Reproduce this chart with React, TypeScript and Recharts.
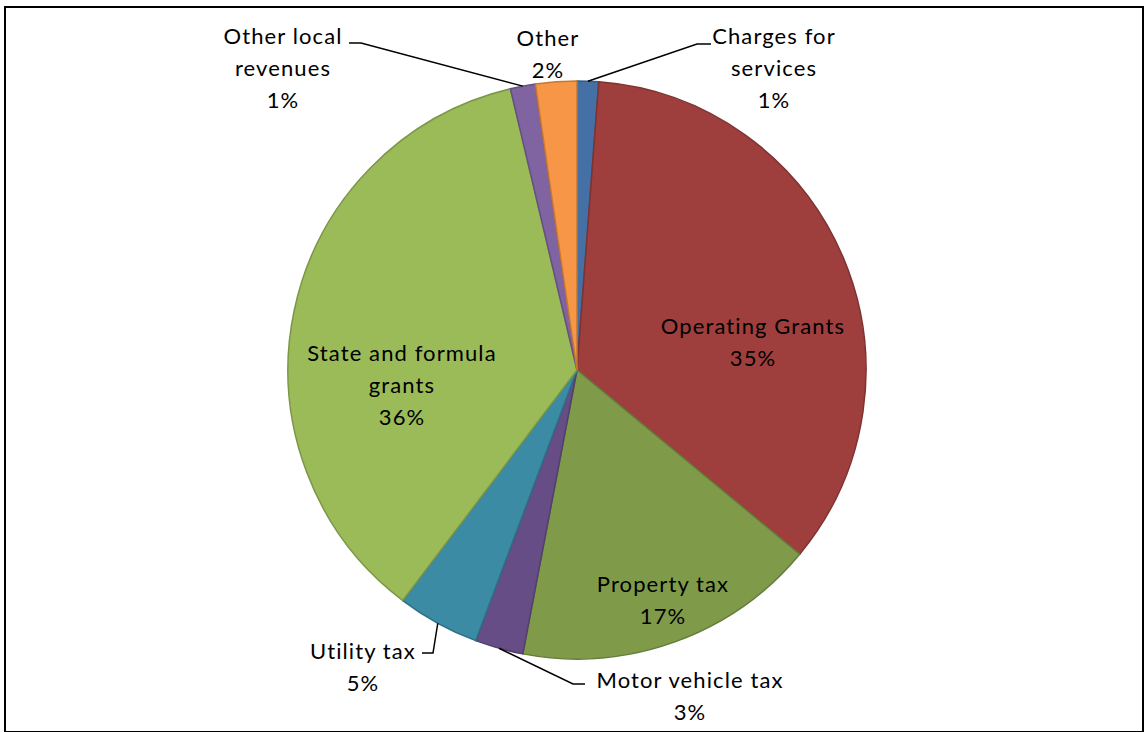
import { PieChart, Pie, Cell } from "recharts";

// revenue share by source (percent of total)
const sources = [
  "Charges for services",
  "Operating Grants",
  "Property tax",
  "Motor vehicle tax",
  "Utility tax",
  "State and formula grants",
  "Other local revenues",
  "Other",
];
const shares = [1.2, 34.8, 17.0, 2.7, 4.6, 36.0, 1.4, 2.3];
const labelLines = [
  ["Charges for", "services"],
  ["Operating Grants"],
  ["Property tax"],
  ["Motor vehicle tax"],
  ["Utility tax"],
  ["State and formula", "grants"],
  ["Other local", "revenues"],
  ["Other"],
];
const fills = ["#4470A5", "#9E3F3E", "#7F9B4A", "#664D86", "#3B8BA4", "#9BBB59", "#8064A2", "#F79646"];
const strokes = ["#365A85", "#7E3231", "#667C3B", "#52406B", "#2F6F83", "#7C9647", "#665082", "#C67832"];

const data = sources.map((name, i) => ({ name, value: shares[i] }));

// label placement relative to pie centre; elbow = where leader line ends
const labelPos: { dx: number; dy: number; elbow?: [number, number][] }[] = [
  { dx: 197, dy: -335, elbow: [[120, -326], [134, -326]] },
  { dx: 176, dy: -45 },
  { dx: 86, dy: 213 },
  { dx: 113, dy: 309, elbow: [[-4, 314], [8, 314]] },
  { dx: -214, dy: 280, elbow: [[-144, 283], [-155, 283]] },
  { dx: -175, dy: -18 },
  { dx: -294, dy: -335, elbow: [[-216, -327], [-228, -327]] },
  { dx: -29, dy: -333 },
];

const RADIAN = Math.PI / 180;
const LINE_H = 32;

function renderLabel(props: any) {
  const { cx, cy, midAngle, outerRadius, percent, index } = props;
  const pos = labelPos[index];
  const lines = [...labelLines[index], `${Math.round(percent * 100)}%`];
  const x = cx + pos.dx;
  const y0 = cy + pos.dy;
  let leader = null;
  if (pos.elbow) {
    const ex = cx + outerRadius * Math.cos(-midAngle * RADIAN);
    const ey = cy + outerRadius * Math.sin(-midAngle * RADIAN);
    const pts = [[ex, ey], ...pos.elbow.map(([a, b]) => [cx + a, cy + b])];
    leader = (
      <polyline
        points={pts.map((p) => p.join(",")).join(" ")}
        fill="none"
        stroke="#000"
        strokeWidth={1.5}
      />
    );
  }
  return (
    <g key={`lbl-${index}`}>
      {leader}
      {lines.map((t, i) => (
        <text
          key={i}
          x={x}
          y={y0 + i * LINE_H}
          textAnchor="middle"
          dominantBaseline="central"
          fontFamily="Lato, 'Open Sans', sans-serif"
          fontSize={22}
          letterSpacing={1.1}
          fill="#000"
        >
          {t}
        </text>
      ))}
    </g>
  );
}

export default function App() {
  return (
    <div style={{ position: "fixed", left: 0, top: 0, width: 1144, height: 732, background: "#fff" }}>
      <div
        style={{
          position: "absolute",
          left: 4,
          top: 6,
          width: 1136,
          height: 723,
          border: "2px solid #000",
        }}
      />
      <PieChart
        width={1144}
        height={732}
        margin={{ top: 0, right: 0, bottom: 0, left: 0 }}
        style={{ position: "absolute", left: 0, top: 0 }}
      >
        <Pie
          data={data}
          dataKey="value"
          nameKey="name"
          cx={577}
          cy={370}
          outerRadius={289}
          startAngle={90}
          endAngle={-270}
          label={renderLabel}
          labelLine={false}
          isAnimationActive={false}
        >
          {data.map((d, i) => (
            <Cell key={d.name} fill={fills[i]} stroke={strokes[i]} strokeWidth={1.5} />
          ))}
        </Pie>
      </PieChart>
    </div>
  );
}
